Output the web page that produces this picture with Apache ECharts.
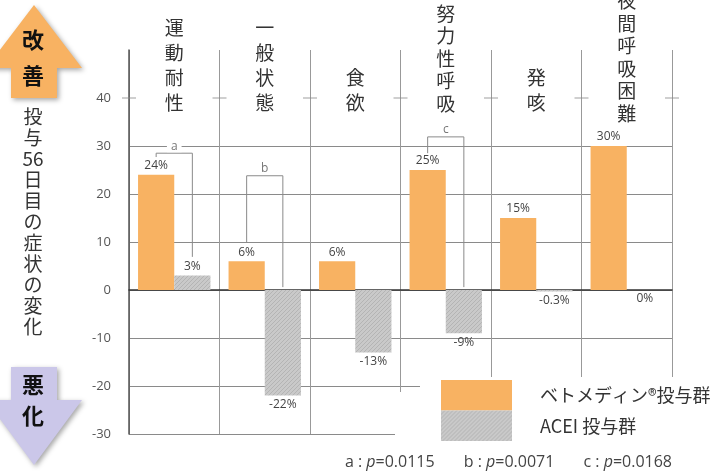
<!DOCTYPE html>
<html>
<head>
<meta charset="utf-8">
<script src="https://cdn.jsdelivr.net/npm/echarts@6/dist/echarts.min.js"></script>
<style>
html, body { margin: 0; padding: 0; background: #fff; }
#chartMain { width: 712px; height: 472px; }
</style>
</head>
<body>
<div id="chartMain"></div>
<script>
var categories = ["運動耐性", "一般状態", "食欲", "努力性呼吸", "発咳", "夜間呼吸困難"];
var pimoValues = [24, 6, 6, 25, 15, 30];
var aceiValues = [3, -22, -13, -9, -0.3, 0];
var seriesNames = ["ベトメディン®投与群", "ACEI 投与群"];

// significance brackets: category, apex, left leg end, right leg end
var bracketCats = [0, 1, 3];
var bracketTops = [28.5, 23.8, 31.9];
var bracketLeftEnds = [27.7, 9.8, 28.5];
var bracketRightEnds = [6.9, 0.6, 0.6];
var bracketLetters = ["a", "b", "c"];
var pValues = ["0.0115", "0.0071", "0.0168"];

var orange = "#f8b262";
var jpFont = "Noto Sans CJK JP";
var numFont = "Open Sans";

function hatchPattern() {
    var c = document.createElement("canvas");
    c.width = 4; c.height = 4;
    var g = c.getContext("2d");
    g.fillStyle = "#c9c9c9";
    g.fillRect(0, 0, 4, 4);
    g.strokeStyle = "#b4b4b4";
    g.lineWidth = 1;
    g.beginPath();
    g.moveTo(0, 4); g.lineTo(4, 0);
    g.moveTo(-1, 1); g.lineTo(1, -1);
    g.moveTo(3, 5); g.lineTo(5, 3);
    g.stroke();
    return { image: c, repeat: "repeat" };
}
var gray = hatchPattern();

chartMain();

function chartMain() {
    var chart = echarts.init(document.getElementById("chartMain"));

    var barLabel = {
        show: true,
        formatter: "{c}%",
        fontSize: 12,
        fontFamily: numFont,
        color: "#444",
        distance: 3
    };

    var aceiData = aceiValues.map(function (v) {
        return { value: v, label: { position: v > 0 ? "top" : "bottom" } };
    });

    var bracketData = bracketCats.map(function (c, k) {
        return [c, bracketTops[k], bracketLeftEnds[k], bracketRightEnds[k]];
    });

    var tickData = [];
    for (var i = 0; i <= categories.length; i++) tickData.push([i, 40]);

    var pText = bracketLetters.map(function (l, k) {
        return "{n|" + l + " : }{i|p}{n|=" + pValues[k] + "}";
    }).join("{n|       }");

    var option = {
        animation: false,
        grid: { left: 129, right: 40, top: 50, bottom: 38, containLabel: false, outerBoundsMode: "none" },
        xAxis: [{
            type: "category",
            data: categories,
            axisLine: { onZero: true, lineStyle: { color: "#333", width: 1.5 } },
            axisTick: { show: false },
            axisLabel: { show: false, interval: 0 },
            splitLine: { show: true, interval: 0, lineStyle: { color: "#999", width: 1 } }
        }, {
            type: "category",
            position: "top",
            data: categories.map(function (c) {
                return {
                    value: c,
                    textStyle: {
                        lineHeight: c.length > 4 ? 22.5 : 25,
                        padding: c.length > 5 ? [0, 0, -10, 0] : 0
                    }
                };
            }),
            axisLine: { show: false },
            axisTick: { show: false },
            axisLabel: {
                interval: 0,
                margin: -65,
                fontSize: 19,
                fontFamily: jpFont,
                color: "#333",
                formatter: function (v) { return v.split("").join("\n"); }
            }
        }, {
            type: "value",
            min: 0,
            max: categories.length,
            show: false
        }],
        yAxis: {
            type: "value",
            min: -30,
            max: 50,
            interval: 10,
            axisLine: { show: true, lineStyle: { color: "#555", width: 1.5 } },
            axisTick: { show: false },
            axisLabel: {
                margin: 18,
                fontSize: 13,
                fontFamily: numFont,
                color: "#555",
                formatter: function (v) { return v === 50 ? "" : v; }
            },
            splitLine: {
                show: true,
                lineStyle: {
                    color: ["#8a8a8a", "#8a8a8a", "#8a8a8a", "#8a8a8a", "#8a8a8a", "#8a8a8a", "#8a8a8a", "transparent", "transparent"],
                    width: 1
                }
            }
        },
        legend: {
            data: seriesNames,
            orient: "vertical",
            left: 441,
            top: 380,
            itemWidth: 71,
            itemHeight: 30.5,
            itemGap: 0,
            padding: 0,
            z: 60,
            selectedMode: false,
            icon: "rect",
            textStyle: { fontSize: 18, fontFamily: jpFont, color: "#333", padding: [0, 0, 0, 23] }
        },
        series: [{
            name: seriesNames[0],
            type: "bar",
            data: pimoValues,
            barGap: "0%",
            barCategoryGap: "20%",
            itemStyle: { color: orange },
            label: Object.assign({ position: "top" }, barLabel)
        }, {
            name: seriesNames[1],
            type: "bar",
            data: aceiData,
            itemStyle: { color: gray },
            label: barLabel
        }, {
            type: "custom",
            silent: true,
            z: 5,
            data: bracketData,
            encode: { x: 0, y: 1 },
            renderItem: function (params, api) {
                var idx = api.value(0);
                var top = api.coord([idx, api.value(1)]);
                var band = api.size([1, 0])[0];
                var xl = top[0] - band * 0.2;
                var xr = top[0] + band * 0.2;
                var yl = api.coord([idx, api.value(2)])[1];
                var yr = api.coord([idx, api.value(3)])[1];
                return {
                    type: "group",
                    children: [{
                        type: "polyline",
                        shape: { points: [[xl, yl], [xl, top[1]], [xr, top[1]], [xr, yr]] },
                        style: { stroke: "#8a8a8a", lineWidth: 1, fill: null }
                    }, {
                        type: "text",
                        x: top[0],
                        y: top[1] - 7,
                        style: {
                            text: bracketLetters[params.dataIndex],
                            align: "center",
                            verticalAlign: "middle",
                            fontSize: 12,
                            fontFamily: numFont,
                            fill: "#777",
                            backgroundColor: "#fff",
                            padding: [0, 4]
                        }
                    }]
                };
            }
        }, {
            type: "scatter",
            xAxisIndex: 2,
            silent: true,
            symbol: "rect",
            symbolSize: [14, 1],
            itemStyle: { color: "#888" },
            data: tickData
        }],
        graphic: [{
            type: "polygon",
            shape: { points: [[34, 5], [82, 68], [57, 68], [57, 98], [11, 98], [11, 68], [-14, 68]] },
            style: { fill: orange, shadowBlur: 5, shadowColor: "rgba(0,0,0,0.35)", shadowOffsetX: 2, shadowOffsetY: 2 }
        }, {
            type: "text",
            x: 33, y: 40,
            style: { text: "改", fontSize: 22, fontWeight: "bold", fontFamily: jpFont, fill: "#111", align: "center", verticalAlign: "middle" }
        }, {
            type: "text",
            x: 33, y: 76,
            style: { text: "善", fontSize: 22, fontWeight: "bold", fontFamily: jpFont, fill: "#111", align: "center", verticalAlign: "middle" }
        }, {
            type: "polygon",
            shape: { points: [[11, 367], [57, 367], [57, 400], [82, 400], [34, 465], [-14, 400], [11, 400]] },
            style: { fill: "#cbc7e9", shadowBlur: 5, shadowColor: "rgba(0,0,0,0.35)", shadowOffsetX: 2, shadowOffsetY: 2 }
        }, {
            type: "text",
            x: 33, y: 385,
            style: { text: "悪", fontSize: 22, fontWeight: "bold", fontFamily: jpFont, fill: "#111", align: "center", verticalAlign: "middle" }
        }, {
            type: "text",
            x: 33, y: 416,
            style: { text: "化", fontSize: 22, fontWeight: "bold", fontFamily: jpFont, fill: "#111", align: "center", verticalAlign: "middle" }
        }, {
            type: "text",
            x: 33, y: 106,
            style: {
                text: "投\n与\n56\n日\n目\nの\n症\n状\nの\n変\n化",
                fontSize: 19, lineHeight: 21, fontFamily: jpFont, fill: "#333", align: "center"
            }
        }, {
            type: "rect",
            z: 50,
            shape: { x: 395, y: 392, width: 317, height: 80 },
            style: { fill: "#fff" }
        }, {
            type: "rect",
            z: 50,
            shape: { x: 420, y: 377, width: 292, height: 95 },
            style: { fill: "#fff" }
        }, {
            type: "text",
            z: 70,
            x: 672, y: 462,
            style: {
                text: pText,
                align: "right",
                verticalAlign: "middle",
                rich: {
                    n: { fontSize: 16, fontFamily: numFont, fill: "#444" },
                    i: { fontSize: 16, fontFamily: numFont, fontStyle: "italic", fill: "#444" }
                }
            }
        }]
    };

    chart.setOption(option);
}
</script>
</body>
</html>
